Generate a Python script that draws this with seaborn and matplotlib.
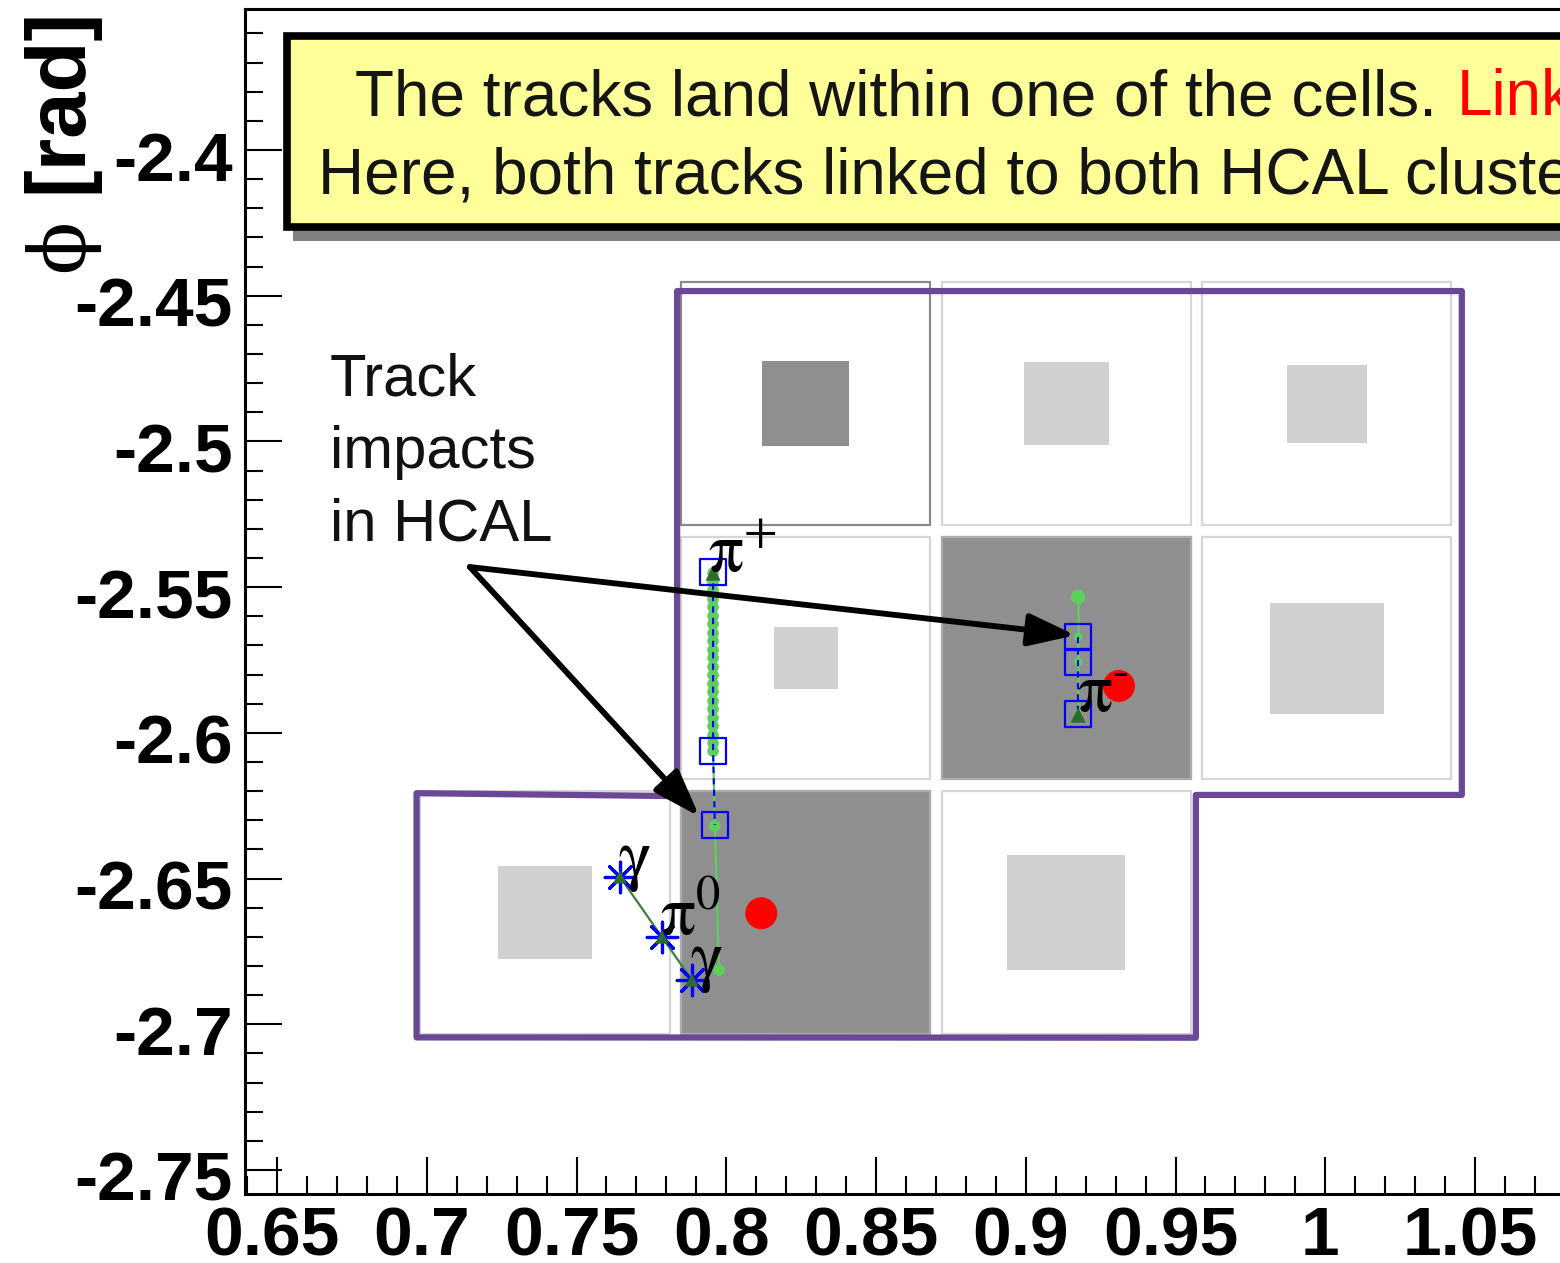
import matplotlib
matplotlib.use("Agg")
import matplotlib.pyplot as plt
import matplotlib.transforms as mtrans
from matplotlib.patches import Rectangle, Polygon
from matplotlib.text import Annotation
from matplotlib.ticker import FixedLocator, MultipleLocator
import seaborn as sns

sns.set_theme(style="white")
plt.rcParams["font.family"] = ["Liberation Sans", "DejaVu Sans"]
plt.rcParams["mathtext.fontset"] = "stix"
plt.rcParams["axes.unicode_minus"] = False

# ------------------------------------------------------------------ data
eta_edges = [0.696, 0.783, 0.870, 0.957, 1.044]
phi_edges = [-2.44346, -2.53073, -2.61799, -2.70526]

cell_col = [1, 2, 3, 1, 2, 3, 0, 1, 2]
cell_row = [0, 0, 0, 1, 1, 1, 2, 2, 2]
cell_box = [0.333, 0.326, 0.307, 0.245, 1.0, 0.437, 0.364, 1.0, 0.452]
cell_level = ["dark", "light", "light", "light", "dark", "light", "light", "dark", "light"]
highlighted_cell = 0

pip_eta = [0.7956, 0.7956, 0.7956, 0.7956, 0.7956, 0.7956, 0.7956, 0.7956,
           0.7956, 0.7956, 0.7956, 0.7956, 0.7956, 0.7956, 0.7956, 0.7956,
           0.7956, 0.7956, 0.7956, 0.7956, 0.7956, 0.7956, 0.7962, 0.7976]
pip_phi = [-2.5452, -2.5483, -2.5510, -2.5541, -2.5568, -2.5599, -2.5627, -2.5658,
           -2.5685, -2.5716, -2.5743, -2.5774, -2.5802, -2.5833, -2.5860, -2.5891,
           -2.5918, -2.5949, -2.5977, -2.6008, -2.6035, -2.6063, -2.6320, -2.6814]
pip_hit_eta = [0.7956, 0.7956, 0.7962]
pip_hit_phi = [-2.5448, -2.6062, -2.6316]

pim_eta = [0.9175, 0.9175, 0.9175, 0.9175]
pim_phi = [-2.5534, -2.5671, -2.5757, -2.5936]
pim_hit_eta = [0.9175, 0.9175, 0.9175]
pim_hit_phi = [-2.5671, -2.5757, -2.5936]

track_start_eta = [0.7956, 0.9175]
track_start_phi = [-2.5452, -2.5939]

gamma_eta = [0.7645, 0.7785, 0.7885]
gamma_phi = [-2.6494, -2.6700, -2.6848]

cluster_eta = [0.8117, 0.9311]
cluster_phi = [-2.6619, -2.5839]

outline_eta = [0.7836, 1.0456, 1.0456, 0.9568, 0.9568, 0.6966, 0.6966, 0.7836]
outline_phi = [-2.4484, -2.4484, -2.6213, -2.6213, -2.7046, -2.7045, -2.6207, -2.6217]

arrow_from = (0.7144, -2.5431)
arrow_to_eta = [0.9166, 0.7910]
arrow_to_phi = [-2.5665, -2.6287]

particle_labels = [r"$\mathrm{\pi}^{+}$", r"$\mathrm{\pi}^{\text{-}}$", r"$\mathrm{\pi}^{0}$",
                   r"$\mathrm{\gamma}$", r"$\mathrm{\gamma}$"]
label_eta = [0.7939, 0.9172, 0.7779, 0.7639, 0.7879]
label_phi = [-2.5448, -2.5932, -2.6694, -2.6495, -2.6842]

x_ticks = [0.65, 0.70, 0.75, 0.80, 0.85, 0.90, 0.95, 1.00, 1.05, 1.10]
x_ticklabels = ["0.65", "0.7", "0.75", "0.8", "0.85", "0.9", "0.95", "1", "1.05", "1.1"]
y_ticks = [-2.75, -2.70, -2.65, -2.60, -2.55, -2.50, -2.45, -2.40]
y_ticklabels = ["-2.75", "-2.7", "-2.65", "-2.6", "-2.55", "-2.5", "-2.45", "-2.4"]

note_lines = ["Track", "impacts", "in HCAL"]
box_line1 = "The tracks land within one of the cells."
box_line1_red = "Link"
box_line2 = "Here, both tracks linked to both HCAL clusters."

# ------------------------------------------------------------------ figure
W, H = 1560, 1263
fig = plt.figure(figsize=(W / 100, H / 100), dpi=100)
fig.patch.set_facecolor("white")


def fx(px):
    return px / W


def fy(py):
    return 1 - py / H


right_px = 1700
ax = fig.add_axes([fx(245), fy(1194), (right_px - 245) / W, (1194 - 9.3) / H])
ax.set_facecolor("white")
ax.set_xlim(0.65 - 32 / 2995, 0.65 + (right_px - 277) / 2995)
ax.set_ylim(-2.75 - 24 / 2914, -2.4 + (150 - 9.3) / 2914)

for s in ax.spines.values():
    s.set_color("black")
    s.set_linewidth(2.2)

ax.xaxis.set_major_locator(FixedLocator(x_ticks))
ax.yaxis.set_major_locator(FixedLocator(y_ticks))
ax.set_xticks(x_ticks, x_ticklabels)
ax.set_yticks(y_ticks, y_ticklabels)
ax.xaxis.set_minor_locator(MultipleLocator(0.01))
ax.yaxis.set_minor_locator(MultipleLocator(0.01))
ax.tick_params(which="both", direction="in", color="black", width=1.5,
               top=False, right=False, bottom=True, left=True)
ax.tick_params(which="major", length=26.5, labelsize=50, labelcolor="black")
ax.tick_params(which="minor", length=13)
ax.tick_params(axis="x", which="major", pad=8)
ax.tick_params(axis="y", which="major", pad=9)
for t in ax.xaxis.get_major_ticks():
    t.label1.set_fontweight("bold")
    t.label1.set_transform(t.label1.get_transform() +
                           mtrans.ScaledTranslation(-0.05, 0, fig.dpi_scale_trans))
for t in ax.yaxis.get_major_ticks():
    t.label1.set_fontweight("bold")
    t.label1.set_transform(t.label1.get_transform() +
                           mtrans.ScaledTranslation(0, -0.06, fig.dpi_scale_trans))
ax.grid(False)

# ------------------------------------------------------------------ cells
inset_x = 0.0019
inset_y = 0.0020
for i, (c, r, f, lvl) in enumerate(zip(cell_col, cell_row, cell_box, cell_level)):
    x0, x1 = eta_edges[c], eta_edges[c + 1]
    y0, y1 = phi_edges[r + 1], phi_edges[r]
    edge = "#8a8a8a" if i == highlighted_cell else "#d6d6d6"
    ax.add_patch(Rectangle((x0 + inset_x, y0 + inset_y), (x1 - x0) - 2 * inset_x,
                           (y1 - y0) - 2 * inset_y, facecolor="white",
                           edgecolor=edge, lw=1.6, zorder=1))
    fill = "#8f8f8f" if lvl == "dark" else "#d0d0d0"
    if f >= 1.0:
        ax.add_patch(Rectangle((x0 + inset_x, y0 + inset_y), (x1 - x0) - 2 * inset_x,
                               (y1 - y0) - 2 * inset_y, facecolor=fill,
                               edgecolor="#ababab", lw=1.6, zorder=1.5))
    else:
        cx, cy = (x0 + x1) / 2, (y0 + y1) / 2
        wx, wy = f * (x1 - x0), f * (y1 - y0)
        ax.add_patch(Rectangle((cx - wx / 2, cy - wy / 2), wx, wy,
                               facecolor=fill, edgecolor="none", zorder=1.5))

# purple outline
ax.add_patch(Polygon(list(zip(outline_eta, outline_phi)), closed=True, fill=False,
                     edgecolor="#6b4896", lw=4.5, joinstyle="round", zorder=3))

# ------------------------------------------------------------------ tracks
green = "#5ccf5c"
sns.lineplot(x=pip_eta, y=pip_phi, sort=False, estimator=None, color=green, lw=1.6,
             ax=ax, zorder=4)
sns.scatterplot(x=pip_eta, y=pip_phi, color=green, s=70, edgecolor="none",
                ax=ax, zorder=4.1)
sns.lineplot(x=pim_eta, y=pim_phi, sort=False, estimator=None, color=green, lw=1.8,
             ax=ax, zorder=4)
sns.scatterplot(x=pim_eta[:1], y=pim_phi[:1], color=green, s=110, edgecolor="none",
                ax=ax, zorder=4.1)
sns.scatterplot(x=pim_eta[1:], y=pim_phi[1:], color=green, s=40, edgecolor="none",
                ax=ax, zorder=4.1)
ax.plot(pip_hit_eta, pip_hit_phi, color="blue", lw=1.5, ls=(0, (3, 2.5)), zorder=4.5)
ax.plot(pim_hit_eta, pim_hit_phi, color="blue", lw=1.5, ls=(0, (3, 2.5)), zorder=4.5)
sns.scatterplot(x=track_start_eta, y=track_start_phi, marker="^", color="#2f6a2f",
                s=120, edgecolor="none", ax=ax, zorder=4.6)
sns.scatterplot(x=pip_hit_eta + pim_hit_eta, y=pip_hit_phi + pim_hit_phi, marker="s",
                color="blue", facecolor="none", edgecolor="blue", s=18.5 ** 2,
                linewidth=1.6, ax=ax, zorder=5)

# photons from pi0
sns.lineplot(x=gamma_eta, y=gamma_phi, sort=False, estimator=None, color="#3f7d3f",
             lw=1.6, ax=ax, zorder=4)
sns.scatterplot(x=gamma_eta, y=gamma_phi, marker=(8, 2, 0), color="blue",
                edgecolor=None, s=22 ** 2, linewidth=2.3, ax=ax, zorder=5)
sns.scatterplot(x=gamma_eta, y=gamma_phi, marker="^", color="#2f6a2f", s=95,
                edgecolor="none", ax=ax, zorder=5.1)

# cluster positions
sns.scatterplot(x=cluster_eta, y=cluster_phi, color="red", s=23 ** 2,
                edgecolor="none", ax=ax, zorder=5)

for lab, e, p in zip(particle_labels, label_eta, label_phi):
    ax.text(e, p, lab, fontsize=50, ha="left", va="baseline", color="black", zorder=6)

# annotation text + arrows
note_x = 0.6677
for line, py in zip(note_lines, [395, 468, 540]):
    ax.text(note_x, -2.4 - (py - 150) / 2914, line, fontsize=43, ha="left",
            va="baseline", color="#111111", zorder=6)
for ex, ey in zip(arrow_to_eta, arrow_to_phi):
    ax.annotate("", xy=(ex, ey), xytext=arrow_from,
                arrowprops=dict(arrowstyle="-|>,head_length=1.1,head_width=0.38",
                                mutation_scale=26, lw=4.2, color="black",
                                shrinkA=0, shrinkB=0), zorder=7)

# ------------------------------------------------------------------ yellow box
shadow = Rectangle((fx(293), fy(241)), fx(1700) - fx(293), fy(45) - fy(241),
                   transform=fig.transFigure, facecolor="#808080", edgecolor="none",
                   zorder=10)
box = Rectangle((fx(286.5), fy(227)), fx(1700) - fx(286.5), fy(36) - fy(227),
                transform=fig.transFigure, facecolor="#ffff99", edgecolor="black",
                lw=5.5, zorder=11)
fig.add_artist(shadow)
fig.add_artist(box)
t1 = fig.text(fx(355), fy(115), box_line1, fontsize=46, va="baseline", ha="left",
              color="#151515", zorder=12)
red = Annotation(box_line1_red, xy=(1, 0), xycoords=t1, xytext=(14, 0),
                 textcoords="offset points", va="bottom", ha="left", fontsize=46,
                 color="red", annotation_clip=False)
red.set_zorder(12)
fig.add_artist(red)
fig.text(fx(318), fy(193), box_line2, fontsize=46, va="baseline", ha="left",
         color="#151515", zorder=12)

# ------------------------------------------------------------------ y title
fig.text(fx(59), fy(8), "[rad]", rotation=90, ha="center", va="top", fontsize=60,
         fontweight="bold", color="black")
fig.text(fx(61), fy(246), "\u03d5", rotation=90, ha="center", va="center",
         fontsize=56, family=["DejaVu Serif", "DejaVu Sans"], color="black")

fig.savefig("out.png", dpi=100)
